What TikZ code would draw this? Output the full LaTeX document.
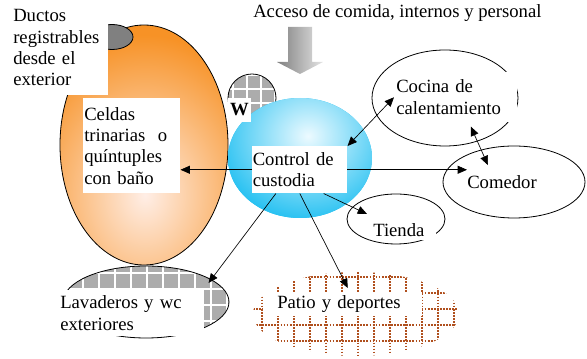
\documentclass[tikz,border=0pt]{standalone}
\usepackage{fontspec}
\setmainfont{Liberation Serif}
\usepackage{tikz}
\usetikzlibrary{arrows.meta,calc}
\usepackage{xcolor}

\definecolor{naranja}{RGB}{247,146,38}
\definecolor{naranjaclaro}{RGB}{255,238,230}
\definecolor{azul}{RGB}{22,188,240}
\definecolor{azulclaro}{RGB}{236,250,255}
\definecolor{grisrejilla}{RGB}{172,172,172}
\definecolor{grisoscuro}{RGB}{128,128,128}
\definecolor{grisclaro}{RGB}{228,228,228}
\definecolor{ladrillo}{RGB}{176,80,30}

\pgfdeclarelayer{frente}
\pgfsetlayers{main,frente}

\begin{document}
\begin{tikzpicture}[x=0.75pt,y=-0.75pt,
    every node/.style={font=\fontsize{14pt}{16pt}\selectfont},
    caja/.style={fill=white, inner ysep=0pt, align=left, anchor=north west},
    borde/.style={draw=black, line width=0.6pt},
    lineablanca/.style={white, line width=1.5pt},
    punteado/.style={ladrillo, line width=1.6pt, dash pattern=on 1.3pt off 1pt},
    flecha/.style={line width=0.5pt, -{Triangle[length=7pt,width=6pt]}},
    doble/.style={line width=0.5pt, {Triangle[length=7pt,width=6pt]}-{Triangle[length=7pt,width=6pt]}}]
    \useasboundingbox (0,0) rectangle (587,359);

    % celdas (naranja) y ducto
    \begin{scope}
        \clip (144,145) ellipse [x radius=84, y radius=120];
        \fill[naranja] (60,25) rectangle (228,265);
        \shade[inner color=naranjaclaro, outer color=naranja] (145,195) ellipse [x radius=130, y radius=160];
    \end{scope}
    \draw[borde] (144,145) ellipse [x radius=84, y radius=120];
    \draw[borde, fill=grisoscuro] (112,37) ellipse [x radius=21, y radius=12.5];

    % W
    \begin{scope}
        \clip (252,98) circle [radius=24];
        \fill[grisrejilla] (228,74) rectangle (276,122);
        \foreach \gx in {233,247,261,275} \draw[lineablanca] (\gx,74) -- (\gx,122);
        \foreach \gy in {75,89,103,117} \draw[lineablanca] (228,\gy) -- (276,\gy);
    \end{scope}
    \draw[borde] (252,98) circle [radius=24];

    % control
    \begin{scope}
        \clip (300,158) ellipse [x radius=72, y radius=60];
        \fill[azul] (228,98) rectangle (372,218);
        \shade[inner color=azulclaro, outer color=azul] (308,136) ellipse [x radius=100, y radius=92];
    \end{scope}

    % cocina, comedor, tienda
    \draw[borde] (445,98) ellipse [x radius=73, y radius=48];
    \draw[borde] (514,182) ellipse [x radius=71, y radius=36];
    \draw[borde] (396,219) ellipse [x radius=49, y radius=25];

    % lavaderos
    \begin{scope}
        \clip (146,302) ellipse [x radius=83, y radius=36];
        \fill[grisrejilla] (63,266) rectangle (229,338);
        \foreach \gx in {67,83,...,227} \draw[lineablanca] (\gx,266) -- (\gx,338);
        \foreach \gy in {273,289,...,337} \draw[lineablanca] (63,\gy) -- (229,\gy);
    \end{scope}
    \draw[borde] (146,302) ellipse [x radius=83, y radius=36];

    % patio
    \begin{scope}
        \clip (356,314) ellipse [x radius=103, y radius=42];
        \foreach \gx in {262,278,...,454} \draw[punteado] (\gx,272) -- (\gx,356);
        \foreach \gy in {277,293,...,357} \draw[punteado] (253,\gy) -- (459,\gy);
    \end{scope}

    % acceso
    \shade[left color=grisoscuro, right color=grisclaro] (288,27) -- (312,27) -- (312,62) -- (323,62) -- (300,74) -- (277,62) -- (288,62) -- cycle;

    \begin{pgfonlayer}{frente}
        \node[anchor=west, inner sep=0pt] (acceso) at (253,13) {Acceso de comida, internos y personal};
        \node[caja, text width=61.5pt, inner xsep=9.75pt, minimum height=71.25pt] (ductos) at (0,0) {Ductos\\registrables\\desde el\\exterior};
        \node[caja, text width=71.25pt, inner xsep=0.75pt, minimum height=71.25pt] (cel) at (83,98) {Celdas\\trinarias\ \ o\\quíntuples\\con baño};
        \node[caja, text width=70.5pt, inner xsep=0.375pt, minimum height=35.25pt] (ctl) at (252,146) {Control de\\custodia};
        \node[fill=white, inner sep=0pt, minimum width=17.25pt, minimum height=18pt] (w) at (239.5,110) {\textbf{W}};
        \node[caja, text width=89.25pt, inner xsep=1.5pt, minimum height=37.5pt] (coc) at (394,72) {Cocina de\\calentamiento};
        \node[anchor=west, inner sep=0pt] (com) at (467,182) {Comedor};
        \node[caja, text width=46.5pt, inner xsep=0.75pt, minimum height=14pt] (tie) at (372,221) {Tienda};
        \node[caja, text width=106.5pt, inner xsep=1.5pt, minimum height=34.5pt] (lav) at (58,290) {Lavaderos y wc\\exteriores};
        \node[caja, text width=98.25pt, inner xsep=10.5pt, minimum height=18pt] (pat) at (263,292) {Patio y deportes};
    \end{pgfonlayer}

    % conexiones
    \draw[doble] (cel.east |- ctl.west) -- (ctl.east -| com.west);
    \draw[doble] (ctl.north east) -- (coc.west);
    \draw[doble] ($(coc.south)+(15,4)$) -- ($(com.north)+(-14,-10)$);
    \draw[flecha] ($(ctl.south)!0.5!(ctl.south east)$) -- ($(tie.north west)+(-5,-7)$);
    \draw[flecha] (ctl.south) -- ($(pat.north)+(5,-4)$);
    \draw[flecha] ($(ctl.south west)!0.5!(ctl.south)$) -- ($(lav.north east)+(4,-7)$);
\end{tikzpicture}
\end{document}
